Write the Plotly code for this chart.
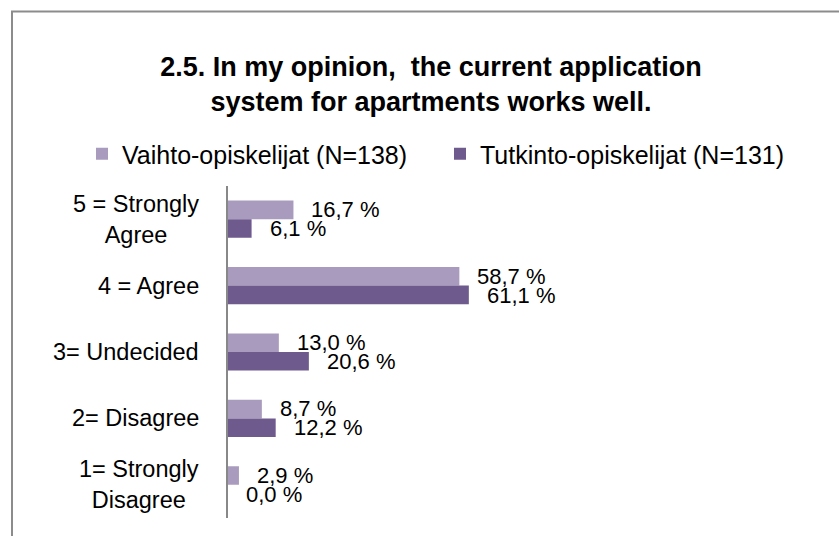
import plotly.graph_objects as go

# Survey answers, top to bottom as shown on the chart
categories = ["5 = Strongly<br>Agree", "4 = Agree", "3= Undecided", "2= Disagree", "1= Strongly<br>Disagree"]
exchange = [16.7, 58.7, 13.0, 8.7, 2.9]      # Vaihto-opiskelijat (N=138)
degree = [6.1, 61.1, 20.6, 12.2, 0.0]        # Tutkinto-opiskelijat (N=131)
series_names = ["Vaihto-opiskelijat (N=138)", "Tutkinto-opiskelijat (N=131)"]
series_colors = ["#a99bbd", "#6f5a8e"]

W, H = 839, 536
FONT = "Liberation Sans"

fig = go.Figure()
for name, vals, col in zip(series_names, [exchange, degree], series_colors):
    fig.add_trace(go.Bar(
        y=categories, x=vals, name=name, orientation="h",
        marker=dict(color=col, line=dict(width=0)),
    ))

# Value labels to the right of each bar
def fmt(v):
    return f"{v:.1f}".replace(".", ",") + " %"

for vals, dy in [(exchange, 9.5), (degree, -9.5)]:
    for cat, v in zip(categories, vals):
        fig.add_annotation(
            x=v, y=cat, xref="x", yref="y", text=fmt(v), showarrow=False,
            xanchor="left", yanchor="middle", xshift=16, yshift=dy,
            font=dict(family=FONT, size=22, color="#000000"),
        )

# Category labels, centred line by line and right-aligned against the axis
for cat in categories:
    fig.add_annotation(
        x=201 / W, y=cat, xref="paper", yref="y", text=cat, showarrow=False,
        xanchor="right", yanchor="middle", align="center",
        font=dict(family=FONT, size=23.5, color="#000000"),
    )

# Chart frame (top and left edges)
frame = "#8c8c8c"
fig.add_shape(type="line", xref="paper", yref="paper",
              x0=11 / W, x1=1.0, y0=1 - 11.5 / H, y1=1 - 11.5 / H,
              line=dict(color=frame, width=2))
fig.add_shape(type="line", xref="paper", yref="paper",
              x0=12 / W, x1=12 / W, y0=1 - 11 / H, y1=0,
              line=dict(color=frame, width=2))

fig.update_layout(
    width=W, height=H,
    margin=dict(l=0, r=0, t=0, b=0),
    paper_bgcolor="white", plot_bgcolor="white",
    barmode="group", bargap=0.44, bargroupgap=0,
    title=dict(
        text="<b>2.5. In my opinion,  the current application<br>system for apartments works well.</b>",
        x=431 / W, xanchor="center", y=1 - 76 / H, yanchor="middle",
        font=dict(family=FONT, size=27, color="#000000"),
    ),
    legend=dict(
        orientation="h", x=82 / W, xanchor="left", y=1 - 154 / H, yanchor="middle",
        font=dict(family=FONT, size=25, color="#000000"),
        bgcolor="rgba(0,0,0,0)", traceorder="normal",
        entrywidth=313, entrywidthmode="pixels",
    ),
    xaxis=dict(domain=[227.5 / W, 504 / W], range=[0, 70], visible=False),
    yaxis=dict(domain=[1 - 518 / H, 1 - 186 / H], autorange="reversed",
               showticklabels=False, ticks="", showgrid=False, zeroline=False,
               showline=True, linecolor="#888888", linewidth=2),
    showlegend=True,
)

fig.write_html("out.html")
